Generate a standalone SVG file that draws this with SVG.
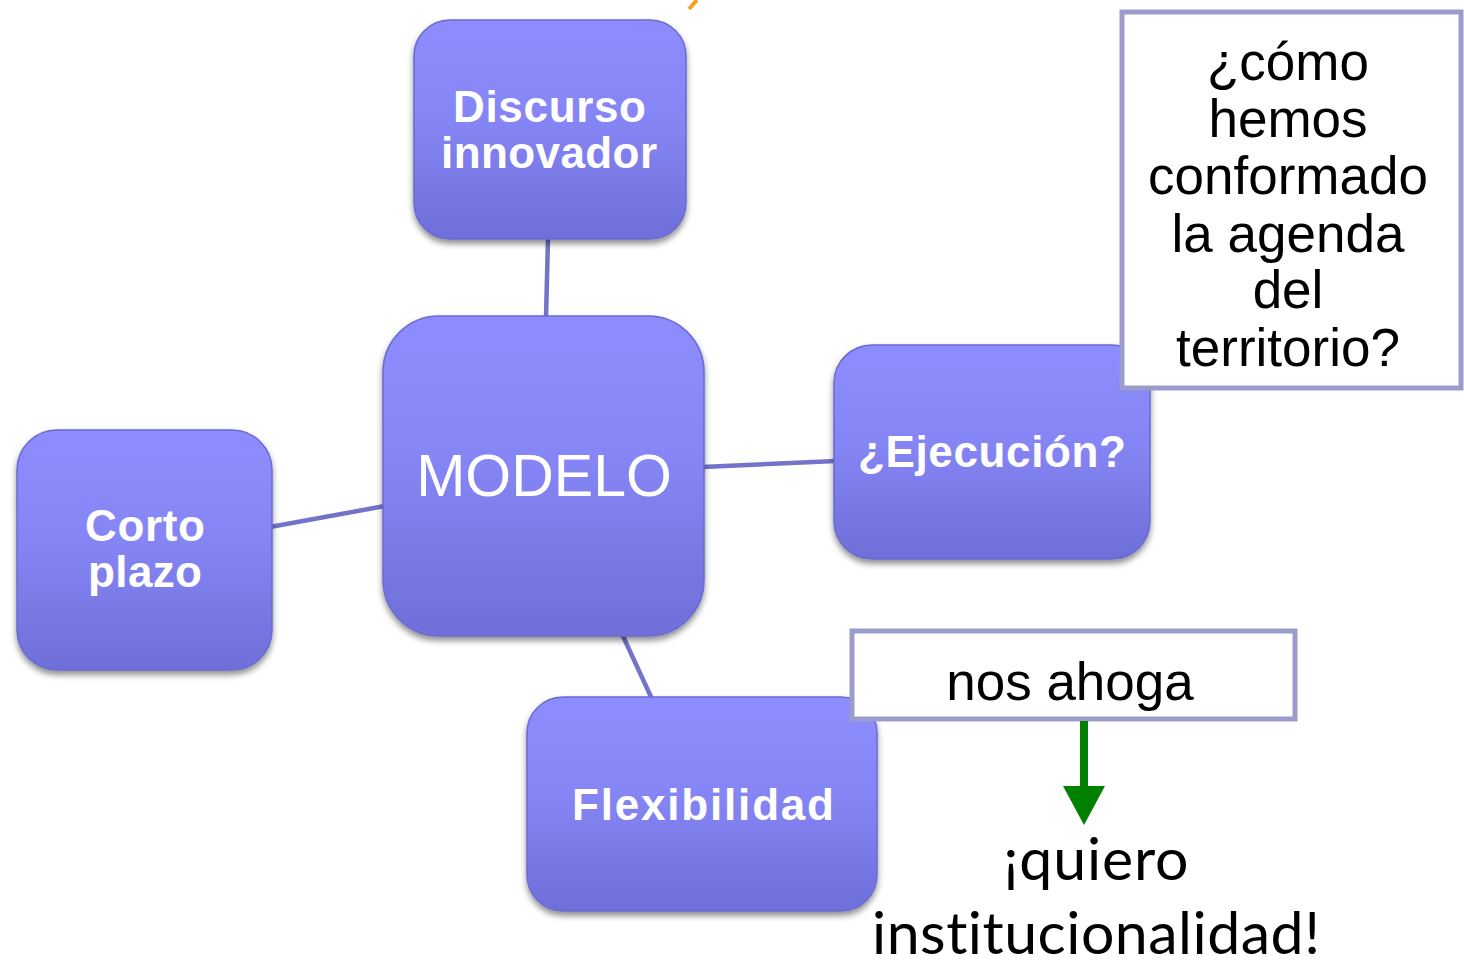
<svg xmlns="http://www.w3.org/2000/svg" width="1464" height="960" viewBox="0 0 1464 960">
<defs>
<linearGradient id="g" x1="0" y1="0" x2="0" y2="1">
<stop offset="0" stop-color="#8d8dff"/>
<stop offset="0.45" stop-color="#8585f5"/>
<stop offset="1" stop-color="#6f6fd9"/>
</linearGradient>
<filter id="sh" x="-10%" y="-10%" width="120%" height="125%">
<feGaussianBlur in="SourceAlpha" stdDeviation="3"/>
<feOffset dy="4" result="b"/>
<feComponentTransfer><feFuncA type="linear" slope="0.45"/></feComponentTransfer>
<feMerge><feMergeNode/><feMergeNode in="SourceGraphic"/></feMerge>
</filter>
</defs>
<style>
.node{fill:url(#g);stroke:#6a6ad0;stroke-width:1.5;filter:url(#sh)}
.nt{font-family:"Liberation Sans",Arial,sans-serif;font-weight:bold;font-size:44px;fill:#fff;text-anchor:middle}
.conn{stroke:#7373c9;stroke-width:4.5;fill:none}
.box{fill:#fff;stroke:#9c9ccc;stroke-width:5}
.bt{font-family:"Liberation Sans",Arial,sans-serif;font-size:53px;fill:#000;text-anchor:middle}
.ct{font-family:Lato,"Open Sans",sans-serif;font-size:59px;fill:#000;text-anchor:middle;font-variant-ligatures:none;font-feature-settings:"liga" 0}
</style>
<rect width="1464" height="960" fill="#fff"/>
<line x1="697" y1="0" x2="689" y2="9" stroke="#f7a11a" stroke-width="4"/>
<g id="connectors">
<line class="conn" x1="548" y1="238" x2="546" y2="318"/>
<line class="conn" x1="702" y1="467" x2="836" y2="461"/>
<line class="conn" x1="270" y1="527" x2="385" y2="506"/>
<line class="conn" x1="622" y1="634" x2="652" y2="699"/>
</g>
<g id="discurso">
<rect class="node" x="414" y="20" width="272" height="219" rx="36"/>
<text class="nt" x="549.5" y="122" textLength="193" lengthAdjust="spacing">Discurso</text>
<text class="nt" x="549" y="168" textLength="216" lengthAdjust="spacing">innovador</text>
</g>
<g id="modelo">
<rect class="node" x="383" y="316" width="321" height="320" rx="56"/>
<text x="544" y="496" font-family="Liberation Sans,Arial,sans-serif" font-size="59" fill="#fff" text-anchor="middle">MODELO</text>
</g>
<g id="corto">
<rect class="node" x="17" y="430" width="255" height="240" rx="40"/>
<text class="nt" x="145" y="541" textLength="120" lengthAdjust="spacing">Corto</text>
<text class="nt" x="145" y="587" textLength="114" lengthAdjust="spacing">plazo</text>
</g>
<g id="ejecucion">
<rect class="node" x="834" y="345" width="316" height="214" rx="38"/>
<text class="nt" x="992" y="467" textLength="268" lengthAdjust="spacing">¿Ejecución?</text>
</g>
<g id="flexibilidad">
<rect class="node" x="527" y="697" width="350" height="214" rx="36"/>
<text class="nt" x="703" y="820" textLength="262" lengthAdjust="spacing">Flexibilidad</text>
</g>
<g id="pregunta">
<rect class="box" x="1122" y="12" width="339" height="376"/>
<text class="bt" x="1288" y="80">¿cómo</text>
<text class="bt" x="1288" y="137">hemos</text>
<text class="bt" x="1288" y="194">conformado</text>
<text class="bt" x="1288" y="252">la agenda</text>
<text class="bt" x="1288" y="308">del</text>
<text class="bt" x="1288" y="366">territorio?</text>
</g>
<g id="ahoga">
<rect class="box" x="852" y="631" width="443" height="88"/>
<text class="bt" x="1070" y="700">nos ahoga</text>
</g>
<g id="arrow">
<line x1="1084" y1="721" x2="1084" y2="790" stroke="#008000" stroke-width="8"/>
<polygon points="1063,786 1105,786 1084,825" fill="#008000"/>
</g>
<g id="quiero">
<text class="ct" x="1096" y="880" textLength="185" lengthAdjust="spacing">¡quiero</text>
<text class="ct" x="1096" y="954" textLength="448" lengthAdjust="spacing">institucionalidad!</text>
</g>
</svg>
